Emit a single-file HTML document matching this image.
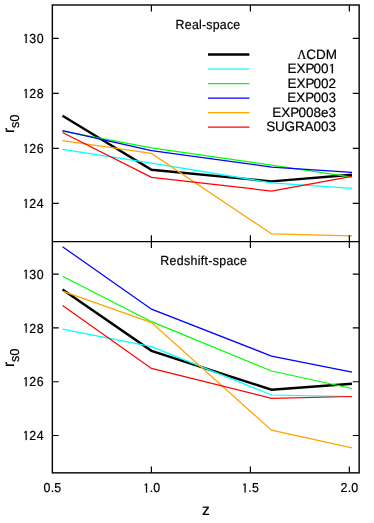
<!DOCTYPE html>
<html><head><meta charset="utf-8">
<title>r_s0 vs z</title>
<style>
html,body{margin:0;padding:0;background:#fff;}
svg{display:block;will-change:transform;text-rendering:geometricPrecision;}
text{font-family:"Liberation Sans",sans-serif;fill:#000;stroke:#000;stroke-width:0.2px;}
.sym{font-family:"Liberation Serif",serif;}
.h{fill:none;stroke:none;}
</style></head>
<body>
<svg width="374" height="523" viewBox="0 0 374 523">
<rect x="0" y="0" width="374" height="523" fill="#fff"/>
<g fill="none" stroke-linejoin="miter" stroke-linecap="butt">
<polyline stroke="#000" stroke-width="2.4" points="62.5,115.8 151.5,169.8 271.5,181.4 352,174.8"/>
<polyline stroke="#00ffff" stroke-width="1.25" points="62.5,149.3 151.5,163.1 271.5,182.8 352,188.3"/>
<polyline stroke="#00ff00" stroke-width="1.25" points="62.5,131.1 151.5,147.9 271.5,165.2 352,177.2"/>
<polyline stroke="#0000ff" stroke-width="1.25" points="62.5,130.6 151.5,150.6 271.5,167.1 352,172.4"/>
<polyline stroke="#ffa500" stroke-width="1.25" points="62.5,140.6 151.5,153.4 271.5,233.8 352,235.9"/>
<polyline stroke="#ff0000" stroke-width="1.25" points="62.5,132.5 151.5,177.4 271.5,191 352,176.4"/>
<polyline stroke="#000" stroke-width="2.4" points="62.5,289.6 151.5,350.8 271.5,389.7 352,383.8"/>
<polyline stroke="#00ffff" stroke-width="1.25" points="62.5,329.1 151.5,346.6 271.5,395 352,396.7"/>
<polyline stroke="#00ff00" stroke-width="1.25" points="62.5,276.3 151.5,321.7 271.5,371 352,388.5"/>
<polyline stroke="#0000ff" stroke-width="1.25" points="62.5,246.7 151.5,309.2 271.5,356.1 352,372.2"/>
<polyline stroke="#ffa500" stroke-width="1.25" points="62.5,291.1 151.5,322.6 271.5,430.2 352,447.9"/>
<polyline stroke="#ff0000" stroke-width="1.25" points="62.5,305.5 151.5,368.4 271.5,398.3 352,396.5"/>
<line x1="208" x2="249.4" y1="54.5" y2="54.5" stroke="#000" stroke-width="2.4"/>
<line x1="208" x2="249.4" y1="69" y2="69" stroke="#00ffff" stroke-width="1.25"/>
<line x1="208" x2="249.4" y1="83.5" y2="83.5" stroke="#00ff00" stroke-width="1.25"/>
<line x1="208" x2="249.4" y1="98" y2="98" stroke="#0000ff" stroke-width="1.25"/>
<line x1="208" x2="249.4" y1="112.5" y2="112.5" stroke="#ffa500" stroke-width="1.25"/>
<line x1="208" x2="249.4" y1="127" y2="127" stroke="#ff0000" stroke-width="1.25"/>
</g>
<g fill="none" stroke="#000" stroke-width="1.4">
<rect x="52.35" y="5" width="306.8" height="467.85"/>
<line x1="52.35" x2="359.15" y1="241.6" y2="241.6"/>
<path stroke-width="1.2" d="M151.4 5v6.4M151.4 235.2v12.8M151.4 472.85v-6.4M250.4 5v6.4M250.4 235.2v12.8M250.4 472.85v-6.4M349.35 5v6.4M349.35 235.2v12.8M349.35 472.85v-6.4M52.35 38.35h6.4M359.15 38.35h-6.4M52.35 93.35h6.4M359.15 93.35h-6.4M52.35 148.35h6.4M359.15 148.35h-6.4M52.35 203.35h6.4M359.15 203.35h-6.4M52.35 274.2h6.4M359.15 274.2h-6.4M52.35 327.97h6.4M359.15 327.97h-6.4M52.35 381.73h6.4M359.15 381.73h-6.4M52.35 435.5h6.4M359.15 435.5h-6.4"/>
</g>
<text transform="translate(44.26,42.95) scale(1,1.06)" font-size="12.4" text-anchor="end" style="letter-spacing:0.56px"><tspan class="h">1</tspan>30</text>
<text transform="translate(44.26,97.95) scale(1,1.06)" font-size="12.4" text-anchor="end" style="letter-spacing:0.56px"><tspan class="h">1</tspan>28</text>
<text transform="translate(44.26,152.95) scale(1,1.06)" font-size="12.4" text-anchor="end" style="letter-spacing:0.56px"><tspan class="h">1</tspan>26</text>
<text transform="translate(44.26,207.95) scale(1,1.06)" font-size="12.4" text-anchor="end" style="letter-spacing:0.56px"><tspan class="h">1</tspan>24</text>
<text transform="translate(44.26,278.8) scale(1,1.06)" font-size="12.4" text-anchor="end" style="letter-spacing:0.56px"><tspan class="h">1</tspan>30</text>
<text transform="translate(44.26,332.57) scale(1,1.06)" font-size="12.4" text-anchor="end" style="letter-spacing:0.56px"><tspan class="h">1</tspan>28</text>
<text transform="translate(44.26,386.33) scale(1,1.06)" font-size="12.4" text-anchor="end" style="letter-spacing:0.56px"><tspan class="h">1</tspan>26</text>
<text transform="translate(44.26,440.1) scale(1,1.06)" font-size="12.4" text-anchor="end" style="letter-spacing:0.56px"><tspan class="h">1</tspan>24</text>
<text transform="translate(52.5,492.45) scale(1,1.045)" font-size="12.4" text-anchor="middle" style="letter-spacing:0.2px">0.5</text>
<text transform="translate(151.5,492.45) scale(1,1.045)" font-size="12.4" text-anchor="middle" style="letter-spacing:0.2px"><tspan class="h">1</tspan>.0</text>
<text transform="translate(250.1,492.45) scale(1,1.045)" font-size="12.4" text-anchor="middle" style="letter-spacing:0.2px"><tspan class="h">1</tspan>.5</text>
<text transform="translate(349.45,492.45) scale(1,1.045)" font-size="12.4" text-anchor="middle" style="letter-spacing:0.2px">2.0</text>
<text transform="translate(205.8,514.7) scale(1,1)" font-size="15.5" text-anchor="middle">z</text>
<text transform="translate(14,132.9) rotate(-90)" font-size="15.5" style="letter-spacing:-0.2px">r<tspan font-size="12.9" dy="5">s0</tspan></text>
<text transform="translate(14,366.9) rotate(-90)" font-size="15.5" style="letter-spacing:-0.2px">r<tspan font-size="12.9" dy="5">s0</tspan></text>
<text transform="translate(175.6,28.5) scale(1,1.06)" font-size="12.4" text-anchor="start" style="letter-spacing:0.22px">Real-space</text>
<text transform="translate(160.3,264.8) scale(1,1.06)" font-size="12.4" text-anchor="start" style="letter-spacing:0.31px">Redshift-space</text>
<text class="sym" transform="translate(306.456,58.75) scale(1,1.07)" font-size="12.6" text-anchor="end">&#923;</text>
<text transform="translate(336.9,58.75) scale(1,1)" font-size="13.5" text-anchor="end">CDM</text>
<text transform="translate(314.476,73.25) scale(1,1)" font-size="13.5" text-anchor="end">EXP</text>
<text transform="translate(336.1,73.25) scale(1,1)" font-size="13.5" text-anchor="end">00<tspan class="h">1</tspan></text>
<text transform="translate(314.476,87.75) scale(1,1)" font-size="13.5" text-anchor="end">EXP</text>
<text transform="translate(336.1,87.75) scale(1,1)" font-size="13.5" text-anchor="end">002</text>
<text transform="translate(314.376,102.25) scale(1,1)" font-size="13.5" text-anchor="end">EXP</text>
<text transform="translate(336.1,102.25) scale(1,1)" font-size="13.5" text-anchor="end">003</text>
<text transform="translate(299.16,116.75) scale(1,1)" font-size="13.5" text-anchor="end">EXP</text>
<text transform="translate(336.1,116.75) scale(1,1)" font-size="13.5" text-anchor="end">008e3</text>
<text transform="translate(313.426,131.25) scale(1,1)" font-size="13.5" text-anchor="end" style="letter-spacing:-0.15px">SUGRA</text>
<text transform="translate(336.1,131.25) scale(1,1)" font-size="13.5" text-anchor="end">003</text>
<path transform="translate(22.50,42.95) scale(0.006055,-0.006418)" d="M515 0V1237L300 1084V1251L530 1409H696V0Z" stroke="#000" stroke-width="0.2" vector-effect="non-scaling-stroke"/>
<path transform="translate(22.50,97.95) scale(0.006055,-0.006418)" d="M515 0V1237L300 1084V1251L530 1409H696V0Z" stroke="#000" stroke-width="0.2" vector-effect="non-scaling-stroke"/>
<path transform="translate(22.50,152.95) scale(0.006055,-0.006418)" d="M515 0V1237L300 1084V1251L530 1409H696V0Z" stroke="#000" stroke-width="0.2" vector-effect="non-scaling-stroke"/>
<path transform="translate(22.50,207.95) scale(0.006055,-0.006418)" d="M515 0V1237L300 1084V1251L530 1409H696V0Z" stroke="#000" stroke-width="0.2" vector-effect="non-scaling-stroke"/>
<path transform="translate(22.50,278.80) scale(0.006055,-0.006418)" d="M515 0V1237L300 1084V1251L530 1409H696V0Z" stroke="#000" stroke-width="0.2" vector-effect="non-scaling-stroke"/>
<path transform="translate(22.50,332.57) scale(0.006055,-0.006418)" d="M515 0V1237L300 1084V1251L530 1409H696V0Z" stroke="#000" stroke-width="0.2" vector-effect="non-scaling-stroke"/>
<path transform="translate(22.50,386.33) scale(0.006055,-0.006418)" d="M515 0V1237L300 1084V1251L530 1409H696V0Z" stroke="#000" stroke-width="0.2" vector-effect="non-scaling-stroke"/>
<path transform="translate(22.50,440.10) scale(0.006055,-0.006418)" d="M515 0V1237L300 1084V1251L530 1409H696V0Z" stroke="#000" stroke-width="0.2" vector-effect="non-scaling-stroke"/>
<path transform="translate(142.84,492.45) scale(0.006055,-0.006327)" d="M515 0V1237L300 1084V1251L530 1409H696V0Z" stroke="#000" stroke-width="0.2" vector-effect="non-scaling-stroke"/>
<path transform="translate(241.44,492.45) scale(0.006055,-0.006327)" d="M515 0V1237L300 1084V1251L530 1409H696V0Z" stroke="#000" stroke-width="0.2" vector-effect="non-scaling-stroke"/>
<path transform="translate(328.33,73.25) scale(0.006592,-0.006592)" d="M515 0V1237L300 1084V1251L530 1409H696V0Z" stroke="#000" stroke-width="0.2" vector-effect="non-scaling-stroke"/>
</svg>
</body></html>
